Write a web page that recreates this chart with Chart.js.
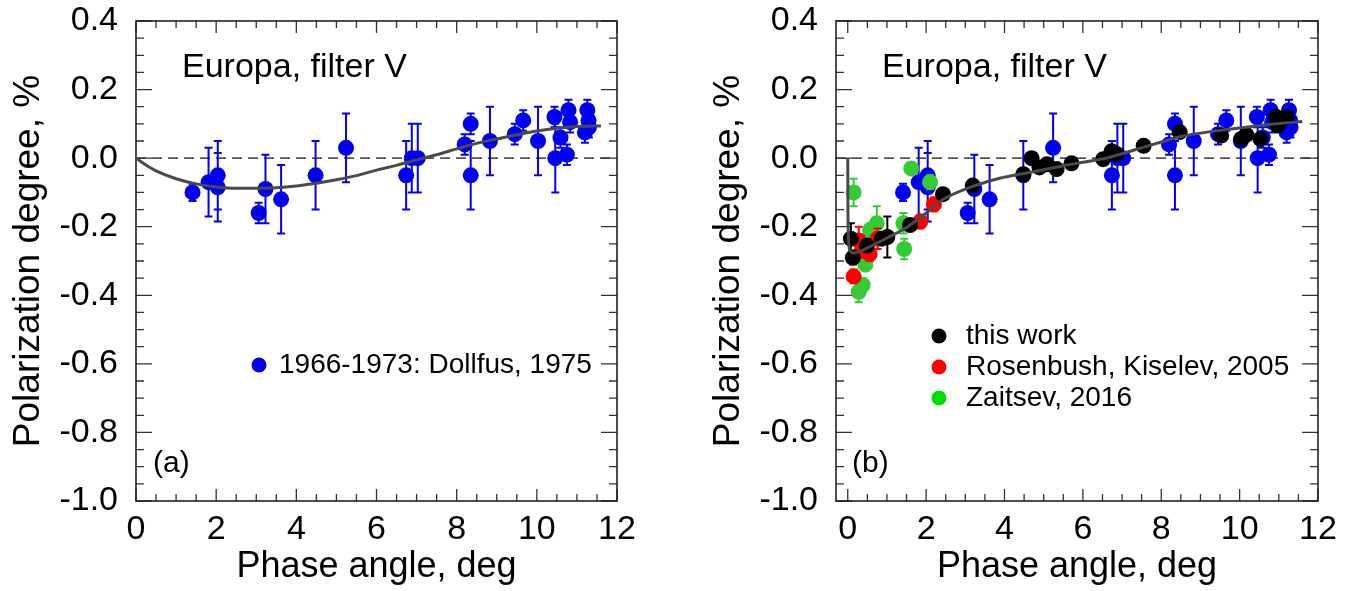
<!DOCTYPE html>
<html>
<head>
<meta charset="utf-8">
<script src="https://cdn.jsdelivr.net/npm/chart.js@4.4.1/dist/chart.umd.min.js"></script>
<style>
  html, body { margin: 0; padding: 0; background: #fff; }
  #wrap { position: relative; width: 1353px; height: 591px; }
  canvas { position: absolute; top: 0; }
</style>
</head>
<body>
<div id="wrap">
  <canvas id="chartA" width="700" height="591" style="left:0;width:700px;height:591px"></canvas>
  <canvas id="chartB" width="653" height="591" style="left:700px;width:653px;height:591px"></canvas>
</div>
<script>
// Dollfus 1975 (blue), same in both panels
const dollfusPhase = [1.41, 1.81, 2.04, 2.04, 3.06, 3.23, 3.62, 4.48, 5.24, 6.74, 6.88, 7.03,
  8.20, 8.35, 8.35, 8.83, 9.45, 9.66, 10.03, 10.44, 10.46, 10.59, 10.75, 10.79, 10.83,
  11.20, 11.26, 11.29, 11.30];
const dollfusPol = [-0.10, -0.07, -0.05, -0.085, -0.16, -0.09, -0.12, -0.05, 0.03, -0.05, 0.0, 0.0,
  0.04, 0.10, -0.05, 0.05, 0.07, 0.11, 0.05, 0.12, 0.0, 0.06, 0.01, 0.14, 0.105,
  0.075, 0.14, 0.11, 0.09];
const dollfusErr = [0.025, 0.10, 0.10, 0.10, 0.03, 0.10, 0.10, 0.10, 0.10, 0.10, 0.10, 0.10,
  0.03, 0.03, 0.10, 0.10, 0.03, 0.03, 0.10, 0.03, 0.10, 0.03, 0.03, 0.03, 0.03,
  0.03, 0.03, 0.03, 0.03];

// this work (black)
const thisWorkPhase = [0.08, 0.13, 0.49, 0.87, 1.01, 1.59, 2.43, 3.19, 4.48, 4.69, 4.89, 5.08,
  5.33, 5.71, 6.52, 6.73, 6.86, 7.55, 8.47, 9.53, 10.04, 10.17, 10.53, 10.93, 10.98, 11.20];
const thisWorkPol = [-0.235, -0.29, -0.255, -0.235, -0.23, -0.195, -0.105, -0.08, -0.047, 0.0, -0.027, -0.018,
  -0.032, -0.015, -0.003, 0.02, 0.012, 0.036, 0.076, 0.066, 0.056, 0.068, 0.056, 0.12, 0.095, 0.12];
const thisWorkErr = [0.045, 0.02, 0.015, 0.015, 0.06, 0.015, 0.01, 0.01, 0.01, 0.01, 0.01, 0.01,
  0.01, 0.01, 0.01, 0.01, 0.01, 0.01, 0.01, 0.01, 0.01, 0.01, 0.01, 0.01, 0.01, 0.01];

// Rosenbush, Kiselev 2005 (red)
const rosenbushPhase = [0.15, 0.28, 0.36, 0.56, 0.76, 1.85, 2.20];
const rosenbushPol = [-0.345, -0.24, -0.27, -0.28, -0.235, -0.185, -0.135];
const rosenbushErr = [0.02, 0.04, 0.02, 0.02, 0.03, 0.02, 0.02];

// Zaitsev 2016 (green)
const zaitsevPhase = [0.15, 0.28, 0.38, 0.45, 0.57, 0.74, 1.42, 1.44, 1.62, 2.10];
const zaitsevPol = [-0.10, -0.39, -0.37, -0.31, -0.21, -0.19, -0.19, -0.265, -0.03, -0.07];
const zaitsevErr = [0.04, 0.03, 0.02, 0.02, 0.02, 0.05, 0.03, 0.03, 0.01, 0.02];

// fitted phase curves
const fitAPhase = [0, 0.25, 0.5, 1, 1.5, 2, 2.5, 3, 3.5, 4, 4.5, 5, 5.5, 6, 6.5, 7, 7.5, 8, 8.5,
  9, 9.5, 10, 10.5, 11, 11.6];
const fitAPol = [0, -0.02, -0.037, -0.06, -0.075, -0.084, -0.088, -0.088, -0.086, -0.081, -0.073,
  -0.063, -0.051, -0.035, -0.021, -0.005, 0.01, 0.027, 0.043, 0.056, 0.068, 0.079, 0.087, 0.092, 0.094];
const fitBPhase = [0, 0.005, 0.02, 0.06, 0.15, 0.3, 0.5, 1.0, 1.5, 2.0, 2.44, 3.2, 3.9, 4.5, 5.0,
  5.5, 6.0, 6.6, 7.0, 7.5, 8.0, 8.5, 9.0, 9.5, 10.0, 10.5, 11.0, 11.6];
const fitBPol = [0, -0.15, -0.24, -0.27, -0.277, -0.272, -0.262, -0.233, -0.202, -0.16, -0.12, -0.082,
  -0.058, -0.045, -0.034, -0.022, -0.012, 0.0, 0.013, 0.03, 0.047, 0.063, 0.073, 0.081, 0.088, 0.095,
  0.101, 0.107];

const xTicks = [0, 2, 4, 6, 8, 10, 12];
const yTicks = [0.4, 0.2, 0.0, -0.2, -0.4, -0.6, -0.8, -1.0];

const FONT = "'Liberation Sans', Arial, Helvetica, sans-serif";
Chart.defaults.font.family = FONT;
Chart.defaults.color = '#000';

const BLUE = '#0000f5';
const RED = '#ff0000';
const GREEN = '#33cc33';
const BLACK = '#000000';

function pts(xs, ys) {
  return xs.map((x, i) => ({ x: x, y: ys[i] }));
}

function pointSet(label, xs, ys, errs, color, order) {
  return {
    type: 'scatter',
    label: label,
    data: pts(xs, ys),
    errors: errs,
    backgroundColor: color,
    borderColor: color,
    borderWidth: 0,
    pointRadius: 8,
    order: order
  };
}

function curveSet(xs, ys) {
  return {
    type: 'line',
    data: pts(xs, ys),
    borderColor: '#4a4a4a',
    borderWidth: 3,
    pointRadius: 0,
    cubicInterpolationMode: 'monotone',
    fill: false,
    order: 0
  };
}

const panelPlugin = {
  id: 'panel',
  beforeDatasetsDraw(chart, args, opts) {
    const ctx = chart.ctx;
    const a = chart.chartArea;
    const xs = chart.scales.x, ys = chart.scales.y;
    ctx.save();
    // zero line
    ctx.strokeStyle = '#555';
    ctx.lineWidth = 1.6;
    ctx.setLineDash([10, 6]);
    const y0 = ys.getPixelForValue(0);
    ctx.beginPath();
    ctx.moveTo(a.left, y0);
    ctx.lineTo(a.right, y0);
    ctx.stroke();
    ctx.setLineDash([]);
    // ticks on all four sides
    ctx.strokeStyle = '#333';
    ctx.lineWidth = 1.3;
    ctx.beginPath();
    for (let v = 0; v <= 12.001; v += 0.5) {
      const px = xs.getPixelForValue(v);
      const len = Math.abs(v % 2) < 1e-6 ? 12 : 7;
      ctx.moveTo(px, a.bottom); ctx.lineTo(px, a.bottom - len);
      ctx.moveTo(px, a.top); ctx.lineTo(px, a.top + len);
    }
    for (let k = 0; k <= 28; k++) {
      const v = -1 + k * 0.05;
      const py = ys.getPixelForValue(v);
      const len = k % 4 === 0 ? 16 : 8;
      ctx.moveTo(a.left, py); ctx.lineTo(a.left + len, py);
      ctx.moveTo(a.right, py); ctx.lineTo(a.right - len, py);
    }
    ctx.stroke();
    // frame
    ctx.strokeStyle = '#222';
    ctx.lineWidth = 1.6;
    ctx.strokeRect(a.left, a.top, a.right - a.left, a.bottom - a.top);
    ctx.restore();
  },
  beforeDatasetDraw(chart, args) {
    const ds = chart.data.datasets[args.index];
    if (!ds.errors) return;
    const ctx = chart.ctx;
    const xs = chart.scales.x, ys = chart.scales.y;
    ctx.save();
    ctx.strokeStyle = ds.borderColor;
    ctx.lineWidth = 2;
    ctx.beginPath();
    ds.data.forEach((p, i) => {
      const e = ds.errors[i];
      const px = xs.getPixelForValue(p.x);
      const top = ys.getPixelForValue(p.y + e);
      const bot = ys.getPixelForValue(p.y - e);
      ctx.moveTo(px, top); ctx.lineTo(px, bot);
      ctx.moveTo(px - 4, top); ctx.lineTo(px + 4, top);
      ctx.moveTo(px - 4, bot); ctx.lineTo(px + 4, bot);
    });
    ctx.stroke();
    ctx.restore();
  },
  afterDatasetsDraw(chart, args, opts) {
    const ctx = chart.ctx;
    const a = chart.chartArea;
    ctx.save();
    ctx.fillStyle = '#000';
    ctx.textBaseline = 'alphabetic';
    ctx.textAlign = 'left';
    ctx.font = '34px ' + FONT;
    ctx.fillText(opts.title, a.left + 46, 77);
    ctx.font = '30px ' + FONT;
    ctx.fillText(opts.letter, a.left + opts.letterDx, 472);
    ctx.font = '28px ' + FONT;
    opts.legend.forEach(item => {
      ctx.fillStyle = item.color;
      ctx.beginPath();
      ctx.arc(a.left + opts.dotDx, item.y, 7.5, 0, Math.PI * 2);
      ctx.fill();
      ctx.fillStyle = '#000';
      ctx.fillText(item.text, a.left + opts.textDx, item.y + 8);
    });
    ctx.restore();
  }
};

function makeOptions(xMin, padRight, panel) {
  return {
    responsive: false,
    animation: false,
    events: [],
    layout: { padding: { top: 21, right: padRight, left: 0, bottom: 0 } },
    plugins: {
      legend: { display: false },
      tooltip: { enabled: false },
      panel: panel
    },
    scales: {
      x: {
        type: 'linear',
        min: xMin,
        max: 12,
        afterBuildTicks: s => { s.ticks = xTicks.map(v => ({ value: v })); },
        afterFit: s => { s.height = 90; s.paddingLeft = 0; s.paddingRight = 0; },
        grid: { display: false, drawTicks: false },
        border: { display: false },
        ticks: {
          font: { size: 34 },
          color: '#000',
          padding: 8,
          maxRotation: 0,
          autoSkip: false,
          callback: v => String(v)
        },
        title: {
          display: true,
          text: 'Phase angle, deg',
          font: { size: 36 },
          color: '#000',
          padding: { top: 0, bottom: 2 }
        }
      },
      y: {
        type: 'linear',
        min: -1.0,
        max: 0.4,
        afterBuildTicks: s => { s.ticks = yTicks.map(v => ({ value: v })); },
        afterFit: s => { s.width = 136; s.paddingTop = 0; s.paddingBottom = 0; },
        grid: { display: false, drawTicks: false },
        border: { display: false },
        ticks: {
          font: { size: 34 },
          color: '#000',
          padding: 18,
          autoSkip: false,
          callback: v => v.toFixed(1)
        },
        title: {
          display: true,
          text: 'Polarization degree, %',
          font: { size: 37 },
          color: '#000',
          padding: { top: 7, bottom: 0 }
        }
      }
    }
  };
}

new Chart(document.getElementById('chartA').getContext('2d'), {
  type: 'scatter',
  data: {
    datasets: [
      curveSet(fitAPhase, fitAPol),
      pointSet('1966-1973: Dollfus, 1975', dollfusPhase, dollfusPol, dollfusErr, BLUE, 4)
    ]
  },
  options: makeOptions(0, 83, {
    title: 'Europa, filter V',
    letter: '(a)',
    letterDx: 17,
    dotDx: 123,
    textDx: 143,
    legend: [{ text: '1966-1973: Dollfus, 1975', color: BLUE, y: 365 }]
  }),
  plugins: [panelPlugin]
});

new Chart(document.getElementById('chartB').getContext('2d'), {
  type: 'scatter',
  data: {
    datasets: [
      curveSet(fitBPhase, fitBPol),
      pointSet('this work', thisWorkPhase, thisWorkPol, thisWorkErr, BLACK, 1),
      pointSet('Rosenbush, Kiselev, 2005', rosenbushPhase, rosenbushPol, rosenbushErr, RED, 2),
      pointSet('Zaitsev, 2016', zaitsevPhase, zaitsevPol, zaitsevErr, GREEN, 3),
      pointSet('1966-1973: Dollfus, 1975', dollfusPhase, dollfusPol, dollfusErr, BLUE, 4)
    ]
  },
  options: makeOptions(-0.3, 35, {
    title: 'Europa, filter V',
    letter: '(b)',
    letterDx: 16,
    dotDx: 103,
    textDx: 130,
    legend: [
      { text: 'this work', color: BLACK, y: 336 },
      { text: 'Rosenbush, Kiselev, 2005', color: RED, y: 367 },
      { text: 'Zaitsev, 2016', color: '#00e000', y: 398 }
    ]
  }),
  plugins: [panelPlugin]
});
</script>
</body>
</html>
